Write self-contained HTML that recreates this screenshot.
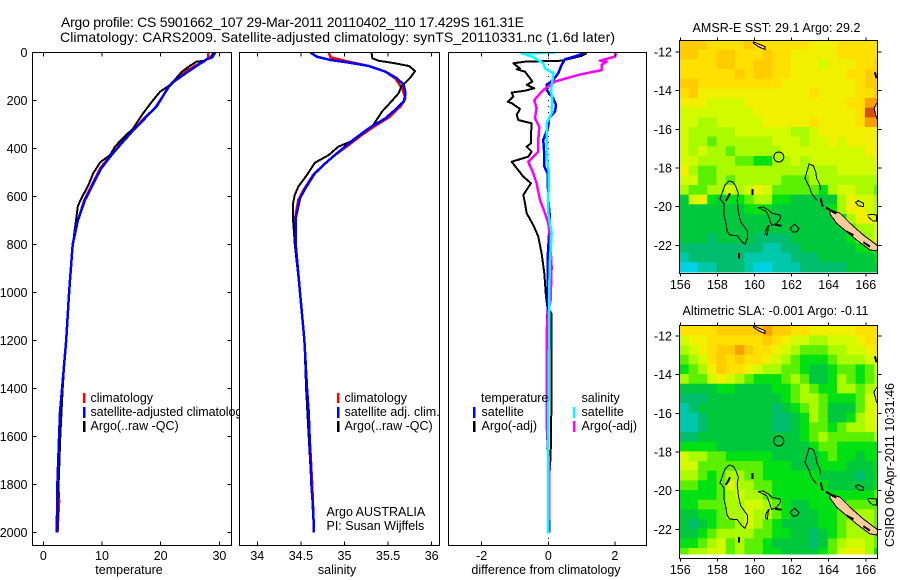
<!DOCTYPE html>
<html lang="en">
<head>
<meta charset="utf-8">
<title>Argo profile CS 5901662_107</title>
<style>
html,body{margin:0;padding:0;background:#fff;}
svg{display:block;font-family:"Liberation Sans",sans-serif;font-size:12.5px;fill:#000;}
.frame{fill:none;stroke:#000;stroke-width:1;shape-rendering:crispEdges;}
.leg{stroke-width:2.5;shape-rendering:crispEdges;}
</style>
</head>
<body>
<svg id="chart" xmlns="http://www.w3.org/2000/svg" width="900" height="580" viewBox="0 0 900 580">
  <rect x="0" y="0" width="900" height="580" fill="#fff"/>
  <defs>
    <clipPath id="clipMap1"><rect x="679.5" y="40.5" width="198" height="232"/></clipPath>
    <clipPath id="clipMap2"><rect x="679.5" y="325.5" width="198" height="229"/></clipPath>
    <clipPath id="clipP1"><rect x="32" y="52" width="200" height="494"/></clipPath>
    <clipPath id="clipP2"><rect x="239" y="52" width="201" height="494"/></clipPath>
    <clipPath id="clipP3"><rect x="448" y="52" width="199" height="494"/></clipPath>
  </defs>

  <text x="61" y="27" font-size="14" textLength="463" lengthAdjust="spacing">Argo profile: CS 5901662_107 29-Mar-2011 20110402_110 17.429S 161.31E</text>
  <text x="60" y="42" font-size="14" textLength="555" lengthAdjust="spacing">Climatology: CARS2009. Satellite-adjusted climatology: synTS_20110331.nc (1.6d later)</text>

  <g id="panel1"></g>
  <g>
    <line class="leg" x1="84" y1="393" x2="84" y2="403" stroke="#f00"/>
    <line class="leg" x1="84" y1="407" x2="84" y2="418" stroke="#00f"/>
    <line class="leg" x1="84" y1="421" x2="84" y2="432" stroke="#000"/>
    <text x="90.5" y="402">climatology</text>
    <text x="90.5" y="416" textLength="158">satellite-adjusted climatology</text>
    <text x="90.5" y="430">Argo(..raw -QC)</text>
  </g>
  <rect x="239" y="52" width="201" height="494" fill="#fff"/>
  <g id="panel2"></g>
  <g>
    <line class="leg" x1="338" y1="393" x2="338" y2="403" stroke="#f00"/>
    <line class="leg" x1="338" y1="407" x2="338" y2="418" stroke="#00f"/>
    <line class="leg" x1="338" y1="421" x2="338" y2="432" stroke="#000"/>
    <text x="344.5" y="402">climatology</text>
    <text x="344.5" y="416">satellite adj. clim.</text>
    <text x="344.5" y="430">Argo(..raw -QC)</text>
    <text x="326.5" y="516">Argo AUSTRALIA</text>
    <text x="326.5" y="530">PI: Susan Wijffels</text>
  </g>
  <g id="panel3"></g>
  <g>
    <text x="481" y="402">temperature</text>
    <line class="leg" x1="474" y1="407" x2="474" y2="418" stroke="#00f"/>
    <text x="481.5" y="416">satellite</text>
    <line class="leg" x1="474" y1="421" x2="474" y2="432" stroke="#000"/>
    <text x="481.5" y="430">Argo(-adj)</text>
    <text x="581.5" y="402">salinity</text>
    <line class="leg" x1="574" y1="407" x2="574" y2="418" stroke="#0ff"/>
    <text x="581.5" y="416">satellite</text>
    <line class="leg" x1="574" y1="421" x2="574" y2="432" stroke="#f0f"/>
    <text x="581.5" y="430">Argo(-adj)</text>
  </g>
  <text x="129" y="574" text-anchor="middle">temperature</text>
  <text x="337" y="574" text-anchor="middle">salinity</text>
  <text x="546" y="574" text-anchor="middle">difference from climatology</text>

  <g id="map1"></g>
  <g id="map2"></g>
  <text x="692.5" y="32" textLength="168" lengthAdjust="spacing">AMSR-E SST: 29.1 Argo: 29.2</text>
  <text x="682.5" y="315" textLength="186" lengthAdjust="spacing">Altimetric SLA: -0.001 Argo: -0.11</text>
  <text transform="translate(894,547) rotate(-90)" textLength="164" lengthAdjust="spacing">CSIRO 06-Apr-2011 10:31:46</text>
</svg>
<script>
// Profile axis values
const depthTicks = [0, 200, 400, 600, 800, 1000, 1200, 1400, 1600, 1800, 2000];
const tempTicks = [0, 10, 20, 30];
const salTicks = [34, 34.5, 35, 35.5, 36];
const salTickLabels = ['34', '34.5', '35', '35.5', '36'];
const diffTicks = [-2, 0, 2];
const lonTicks = [156, 158, 160, 162, 164, 166];
const latTicks = [-12, -14, -16, -18, -20, -22];

// Temperature profiles
const tempClimDepth = [0, 25, 39, 60, 94, 136, 178, 233, 268, 326, 386, 435, 483, 532, 587, 615, 700, 800, 1000, 1200, 1400, 1600, 1800, 1870, 2000];
const tempClimValue = [28.1, 28.1, 27.3, 25.6, 23.3, 21.6, 20.5, 19.0, 17.5, 15.2, 13.0, 11.3, 9.7, 8.7, 7.6, 7.0, 5.9, 5.0, 4.4, 3.9, 3.2, 2.75, 2.5, 2.7, 2.4];
const tempSatDepth = [0, 21, 29, 57, 90, 119, 146, 178, 226, 268, 326, 386, 435, 483, 532, 587, 615, 700, 800, 1000, 1200, 1400, 1500, 1600, 1800, 2000];
const tempSatValue = [29.3, 28.8, 27.8, 26.1, 24.1, 22.4, 21.3, 20.5, 19.3, 17.6, 15.3, 13.1, 11.4, 9.9, 8.8, 7.7, 7.1, 5.9, 5.0, 4.4, 3.9, 3.2, 2.85, 2.7, 2.4, 2.3];
const tempArgoDepth = [1, 21, 36, 39, 56, 81, 115, 136, 164, 206, 254, 317, 358, 393, 428, 458, 504, 553, 608, 640, 824, 1000, 1400, 1600, 1800, 2000];
const tempArgoValue = [29.0, 28.5, 27.3, 26.1, 25.0, 23.6, 22.4, 21.6, 19.9, 18.5, 17.0, 15.3, 13.6, 12.2, 11.4, 9.7, 8.5, 7.7, 6.5, 5.9, 4.9, 4.4, 3.3, 2.9, 2.6, 2.4];

// Salinity profiles
const salClimDepth = [1, 21, 39, 57, 81, 108, 150, 192, 226, 271, 307, 344, 386, 428, 469, 511, 574, 615, 699, 800, 1000, 1200, 1400, 1600, 1800, 2000];
const salClimValue = [34.82, 34.84, 35.05, 35.28, 35.47, 35.58, 35.66, 35.70, 35.64, 35.51, 35.35, 35.20, 35.05, 34.89, 34.76, 34.64, 34.53, 34.47, 34.43, 34.44, 34.49, 34.54, 34.57, 34.6, 34.63, 34.65];
const salSatDepth = [1, 18, 32, 43, 57, 81, 108, 136, 171, 205, 240, 275, 310, 344, 386, 428, 469, 504, 567, 608, 692, 800, 1000, 1200, 1400, 1500, 1600, 1700, 1800, 1900, 2000];
const salSatValue = [34.61, 34.68, 34.84, 35.05, 35.28, 35.47, 35.60, 35.68, 35.70, 35.68, 35.58, 35.47, 35.31, 35.18, 35.03, 34.89, 34.76, 34.66, 34.55, 34.49, 34.44, 34.44, 34.49, 34.54, 34.57, 34.59, 34.60, 34.61, 34.62, 34.64, 34.65];
const salArgoDepth = [1, 25, 35, 46, 57, 78, 108, 143, 171, 212, 247, 303, 326, 372, 393, 428, 460, 511, 560, 594, 629, 699, 800, 1000, 1200, 1400, 1600, 1800, 2000];
const salArgoValue = [35.31, 35.32, 35.39, 35.58, 35.74, 35.81, 35.75, 35.65, 35.62, 35.52, 35.43, 35.33, 35.24, 35.07, 34.93, 34.82, 34.66, 34.57, 34.47, 34.43, 34.41, 34.41, 34.43, 34.49, 34.54, 34.56, 34.59, 34.62, 34.65];

// Differences from climatology
const diffTempArgoDepth = [4, 15, 35, 39, 46, 67, 71, 81, 108, 122, 136, 150, 160, 168, 185, 206, 212, 236, 261, 282, 296, 344, 379, 393, 414, 435, 456, 483, 518, 546, 594, 629, 671, 720, 768, 837, 921, 1018, 1060, 1087, 1164, 1365, 1629, 1733, 1760];
const diffTempArgoValue = [1.15, 1.0, 0.4, -0.7, -1.05, -0.85, -0.95, -0.7, -0.55, -0.48, -0.65, -0.42, -0.7, -1.1, -1.05, -1.22, -1.1, -0.85, -0.95, -0.9, -0.5, -0.52, -0.52, -0.65, -0.5, -0.6, -1.1, -0.95, -0.75, -0.52, -0.75, -0.7, -0.65, -0.45, -0.3, -0.2, -0.12, -0.07, -0.03, 0.09, 0.09, 0.1, 0.08, 0.05, 0.03];
const diffTempSatDepth = [4, 15, 29, 53, 87, 115, 136, 157, 192, 219, 247, 275, 310, 365, 407, 462, 476, 504, 615, 692, 860, 1060, 1400, 1540, 1740, 2000];
const diffTempSatValue = [1.05, 0.85, 0.5, 0.4, 0.3, 0.15, -0.05, -0.05, 0.15, 0.23, 0.2, 0.02, 0.0, -0.15, -0.13, -0.12, -0.12, -0.02, 0.0, 0.05, -0.02, -0.02, -0.05, -0.05, 0.02, 0.02];
const diffSalArgoDepth = [4, 18, 35, 39, 53, 74, 94, 122, 157, 199, 233, 275, 310, 365, 414, 456, 504, 546, 615, 671, 712, 768, 894, 1032, 1101, 1171, 1546, 1740, 1949];
const diffSalArgoValue = [2.05, 2.0, 1.55, 1.75, 1.6, 1.6, 0.9, 0.2, -0.15, -0.42, -0.35, -0.4, -0.27, -0.3, -0.3, -0.6, -0.45, -0.35, -0.25, -0.1, 0.0, 0.05, 0.1, 0.07, -0.02, -0.05, -0.05, 0.03, 0.03];
const diffSalSatDepth = [2, 4, 18, 46, 67, 87, 122, 157, 199, 254, 296, 365, 462, 504, 615, 671, 712, 754, 865, 1032, 1240, 1546, 2004];
const diffSalSatValue = [0.2, -0.8, -0.48, -0.15, -0.1, 0.15, 0.12, 0.08, 0.12, 0.1, -0.05, -0.05, -0.02, 0.02, 0.0, 0.0, 0.05, 0.1, 0.05, 0.02, 0.02, 0.0, 0.0];

// Map colour levels (0 = coolest, 12 = warmest), rows north to south, 0.5 degree cells
const sstLevels = [
[10,10,10,9,9,9,9,10,9,9,9,9,9,9,8,8,8,9,9,9,9,9],
[10,10,9,9,10,10,9,9,9,10,9,9,8,8,8,8,8,9,9,9,9,9],
[9,9,9,9,10,10,9,9,10,10,9,9,8,8,8,7,8,8,8,9,9,10],
[9,9,9,9,9,9,10,9,10,10,9,9,8,8,8,8,8,8,9,9,10,10],
[10,10,9,9,9,9,9,9,9,9,9,8,8,8,8,8,8,8,8,9,10,10],
[9,10,8,8,8,8,8,8,8,8,8,8,8,8,9,8,8,8,8,9,9,10],
[8,8,8,7,7,7,7,8,8,8,8,8,8,8,8,8,8,8,9,9,11,11],
[7,7,7,7,7,7,7,7,8,8,8,8,8,8,8,8,8,8,8,9,12,12],
[7,7,6,6,7,7,7,7,7,8,8,8,8,8,9,8,8,8,8,9,11,11],
[7,6,6,6,6,6,7,7,7,7,7,7,6,6,7,8,8,8,8,8,8,8],
[7,6,6,5,6,6,6,6,6,6,7,7,7,6,7,7,8,7,8,8,8,8],
[7,6,7,6,6,5,6,6,6,6,6,7,7,7,7,7,7,7,7,7,8,8],
[7,7,6,6,6,6,5,5,4,4,6,6,7,6,7,7,7,7,7,7,7,8],
[8,6,5,5,6,6,6,6,6,6,6,6,6,6,6,6,6,7,7,7,7,7],
[7,7,5,5,6,5,6,6,6,6,6,5,5,5,6,6,6,6,6,6,6,6],
[6,5,5,6,6,7,6,7,8,7,5,5,5,5,5,4,6,7,7,6,6,5],
[3,7,8,4,3,4,4,5,6,6,4,4,3,3,3,3,3,6,8,7,7,6],
[3,3,3,3,3,3,3,4,4,4,3,3,3,3,3,3,4,6,8,8,7,6],
[3,3,3,3,3,3,3,3,3,3,3,3,3,3,3,3,3,4,6,8,8,7],
[3,3,3,3,3,3,3,3,3,3,3,3,3,3,3,3,3,3,5,6,6,7],
[3,3,3,2,3,3,3,3,2,2,2,2,3,3,3,3,3,3,4,5,6,7],
[2,2,2,2,2,2,2,2,2,1,1,2,2,3,3,3,3,3,3,4,4,5],
[1,2,2,2,2,2,2,1,1,1,1,1,2,2,2,3,3,3,3,3,3,4],
[0,0,1,1,2,2,2,1,0,0,1,1,1,2,2,2,2,2,3,3,3,3]
];
const slaLevels = [
[9,9,9,9,10,10,10,10,10,11,10,10,9,9,8,8,8,8,8,9,9,9],
[7,8,8,9,9,9,9,9,9,10,9,8,7,7,6,6,7,7,7,8,9,9],
[6,7,8,9,10,10,11,10,9,9,8,7,6,5,5,5,6,6,7,7,8,9],
[5,6,7,9,10,9,10,9,9,8,7,6,5,4,4,4,5,6,6,6,7,8],
[4,5,6,8,10,9,9,8,7,6,6,5,5,4,3,3,4,5,5,4,5,7],
[6,5,5,7,8,7,6,5,4,4,4,5,6,5,3,3,4,6,5,4,5,6],
[3,3,3,3,4,4,3,3,3,3,4,4,5,6,5,4,4,6,6,5,6,7],
[2,2,2,3,3,3,3,3,3,3,3,4,5,6,6,5,4,4,4,5,7,8],
[1,2,3,3,3,3,3,3,3,3,2,3,4,5,6,5,3,3,3,5,7,8],
[1,1,2,3,3,3,3,3,3,3,2,2,3,4,6,5,3,3,4,6,7,8],
[1,1,2,3,3,3,3,3,3,3,2,2,3,4,5,5,4,5,6,6,7,7],
[2,2,3,3,3,3,3,3,3,3,3,3,3,4,5,6,5,5,5,5,5,6],
[4,4,4,4,3,3,3,3,3,3,3,3,3,3,4,5,5,4,4,4,4,4],
[7,6,6,5,5,4,4,4,4,4,3,3,3,3,3,4,5,4,4,3,4,4],
[7,7,5,5,5,5,5,5,5,4,4,4,3,3,3,4,4,4,3,3,3,4],
[6,6,5,4,5,6,6,5,5,4,4,4,4,4,4,3,3,3,3,2,3,4],
[5,5,4,4,5,7,6,6,5,5,4,4,4,4,4,4,3,3,3,3,3,4],
[4,4,4,4,5,6,7,6,6,5,4,4,4,4,4,4,4,4,4,4,4,5],
[4,4,5,5,5,6,6,7,7,6,5,4,3,3,4,4,4,4,5,5,5,5],
[3,3,4,4,5,6,6,7,6,6,5,4,3,3,3,4,4,5,5,6,6,5],
[3,2,3,4,5,5,6,7,6,5,4,3,3,3,3,4,4,5,6,6,6,5],
[3,3,4,5,6,6,6,6,5,5,4,4,3,3,2,3,4,5,6,6,6,5],
[4,4,5,6,7,5,6,5,5,4,3,3,3,3,2,3,5,6,7,7,6,5],
[5,6,6,7,7,5,6,5,5,4,4,3,3,3,3,4,5,7,8,8,6,4]
];
const levelColors = ['#00d2e6','#00c8aa','#00be6e','#00c83c','#00e114','#5af000','#aafa00','#d2fa00','#f0f000','#ffe000','#ffcc00','#faa000','#d7500a'];

// Coastlines, lon / lat
const islandALon = [158.64,158.86,159.0,159.13,159.07,159.13,159.25,159.61,159.61,159.49,159.31,159.07,158.68,158.53,158.46,158.35,158.35,158.14,158.28,158.41,158.64];
const islandALat = [-18.67,-18.74,-18.97,-19.31,-19.66,-20.26,-20.78,-21.26,-21.64,-21.95,-21.81,-21.5,-21.47,-21.29,-20.86,-20.43,-19.83,-19.6,-19.22,-18.88,-18.67];
const islandBLon = [163.35,163.08,162.95,162.72,162.85,162.95,163.17,163.3,163.35,163.53,163.57];
const islandBLat = [-19.66,-19.31,-18.97,-18.53,-18.1,-17.79,-17.88,-18.19,-18.53,-18.88,-19.14];
const islandCLon = [160.2,160.47,160.74,160.92,161.37,161.41,161.19,160.92,160.8,160.65,160.2];
const islandCLat = [-20.05,-20.02,-20.17,-20.34,-20.43,-20.6,-20.86,-20.98,-20.6,-20.26,-20.05];
const islandC2Lon = [160.8,160.65,160.58,160.69,160.74,160.8];
const islandC2Lat = [-20.95,-21.12,-21.38,-21.47,-21.12,-20.95];
const islandDLon = [161.91,162.18,162.4,162.31,162.09,161.91];
const islandDLat = [-21.12,-20.91,-21.12,-21.29,-21.33,-21.12];
const islandELon = [165.45,165.6,165.87,165.87,165.6,165.45];
const islandELat = [-19.78,-19.69,-19.83,-20.0,-19.95,-19.78];
const islandFLon = [166.08,166.31,166.58,166.58,166.37,166.13];
const islandFLat = [-20.43,-20.4,-20.43,-20.74,-20.74,-20.52];
const caledoniaLon = [164.07,164.61,165.15,165.87,166.58,166.7,166.58,166.22,165.5,164.97,164.43,164.07];
const caledoniaLat = [-20.17,-20.34,-20.86,-21.47,-21.98,-22.1,-22.29,-22.24,-21.72,-21.29,-20.86,-20.38];
const northIslandLon = [159.94,160.56,160.56,160.29,159.94];
const northIslandLat = [-11.47,-11.72,-11.86,-11.76,-11.55];
const eastIslandLon = [166.7,166.58,166.44,166.58,166.7];
const eastIslandLat = [-14.6,-14.66,-14.91,-15.43,-15.5];
const reefStartLon = [159.9,159.16,158.68,163.57,163.85,165.87,164.97,161.1,166.49];
const reefStartLat = [-19.09,-22.41,-19.31,-19.57,-20.05,-21.84,-21.29,-20.95,-13.05];
const reefEndLon = [159.9,159.16,158.46,163.67,164.4,166.22,165.33,161.46,166.58];
const reefEndLat = [-19.4,-22.67,-19.71,-20.0,-20.36,-22.07,-21.47,-20.98,-13.36];
const argoLon = [161.31];
const argoLat = [-17.43];

const SVGNS = 'http://www.w3.org/2000/svg';
function mk(parent, tag) {
  const el = document.createElementNS(SVGNS, tag);
  parent.appendChild(el);
  return el;
}
function setA(el, name, val) { el.setAttribute(name, val); }

// Axis functions
const depthY = d => 52.3 + 0.24 * d;
const tempX = t => 43.3 + 5.87 * t;
const salX = s => 257.3 + 87.2 * (s - 34);
const diffX = v => 548.3 + 33.3 * v;
const lonX = lon => 680.3 + 18.55 * (lon - 156);
const lat1Y = lat => 52 + 19.33 * (-12 - lat);
const lat2Y = lat => 336 + 19.33 * (-12 - lat);

function pathFrom(xs, ys, fx, fy) {
  return xs.map((v, i) => (i ? 'L' : 'M') + fx(v).toFixed(1) + ' ' + fy(ys[i]).toFixed(1)).join('');
}
function drawCurve(parent, name, values, depths, fx, color, width) {
  const el = mk(parent, 'path');
  
  
  setA(el, 'd', pathFrom(values, depths, fx, depthY));
  setA(el, 'fill', 'none');
  setA(el, 'stroke', color);
  setA(el, 'stroke-width', width);
  setA(el, 'stroke-linejoin', 'round');
  setA(el, 'shape-rendering', 'crispEdges');
}
function tick(parent, x1, y1, x2, y2) {
  const el = mk(parent, 'line');
  
  
  setA(el, 'x1', x1); setA(el, 'y1', y1); setA(el, 'x2', x2); setA(el, 'y2', y2);
  setA(el, 'stroke', '#000');
  setA(el, 'shape-rendering', 'crispEdges');
}
function label(parent, x, y, txt, anchor) {
  const el = mk(parent, 'text');
  
  
  setA(el, 'x', x); setA(el, 'y', y);
  setA(el, 'text-anchor', anchor);
  el.textContent = txt;
}
function frame(parent, x, y, w, h) {
  const el = mk(parent, 'rect');
  
  
  setA(el, 'class', 'frame');
  setA(el, 'x', x); setA(el, 'y', y); setA(el, 'width', w); setA(el, 'height', h);
}
function clipGroup(parent, id) {
  const el = mk(parent, 'g');
  
  
  setA(el, 'clip-path', 'url(#' + id + ')');
  return el;
}

// Panel 1: temperature
const p1 = document.getElementById('panel1');
const g1 = clipGroup(p1, 'clipP1');
drawCurve(g1, 'temperature-climatology-line', tempClimValue, tempClimDepth, tempX, '#f00', 2.5);
drawCurve(g1, 'temperature-argo-line', tempArgoValue, tempArgoDepth, tempX, '#000', 2);
drawCurve(g1, 'temperature-satellite-adjusted-line', tempSatValue, tempSatDepth, tempX, '#00f', 2.5);
frame(p1, 32.5, 52.5, 199, 493);
depthTicks.forEach(d => {
  tick(p1, 32.5, depthY(d), 36.5, depthY(d));
  tick(p1, 231.5, depthY(d), 227.5, depthY(d));
  label(p1, 27.5, depthY(d) + 4.5, String(d), 'end');
});
tempTicks.forEach(t => {
  tick(p1, tempX(t), 52.5, tempX(t), 56.5);
  tick(p1, tempX(t), 545.5, tempX(t), 541.5);
  label(p1, tempX(t), 560, String(t), 'middle');
});

// Panel 2: salinity
const p2 = document.getElementById('panel2');
const g2 = clipGroup(p2, 'clipP2');
drawCurve(g2, 'salinity-climatology-line', salClimValue, salClimDepth, salX, '#f00', 2.5);
drawCurve(g2, 'salinity-argo-line', salArgoValue, salArgoDepth, salX, '#000', 2);
drawCurve(g2, 'salinity-satellite-adjusted-line', salSatValue, salSatDepth, salX, '#00f', 2.5);
frame(p2, 239.5, 52.5, 200, 493);
salTicks.forEach((s, i) => {
  tick(p2, salX(s), 52.5, salX(s), 56.5);
  tick(p2, salX(s), 545.5, salX(s), 541.5);
  label(p2, salX(s), 560, salTickLabels[i], 'middle');
});

// Panel 3: differences
const p3 = document.getElementById('panel3');
const g3 = clipGroup(p3, 'clipP3');
const zeroLine = mk(g3, 'line');


setA(zeroLine, 'x1', diffX(0)); setA(zeroLine, 'x2', diffX(0));
setA(zeroLine, 'y1', 52); setA(zeroLine, 'y2', 546);
setA(zeroLine, 'stroke', '#000');
setA(zeroLine, 'stroke-dasharray', '1 5');
setA(zeroLine, 'shape-rendering', 'crispEdges');
drawCurve(g3, 'temperature-argo-minus-adjusted-line', diffTempArgoValue, diffTempArgoDepth, diffX, '#000', 2);
drawCurve(g3, 'temperature-satellite-difference-line', diffTempSatValue, diffTempSatDepth, diffX, '#00f', 2.5);
drawCurve(g3, 'salinity-argo-minus-adjusted-line', diffSalArgoValue, diffSalArgoDepth, diffX, '#f0f', 2.5);
drawCurve(g3, 'salinity-satellite-difference-line', diffSalSatValue, diffSalSatDepth, diffX, '#0ff', 2.5);
frame(p3, 448.5, 52.5, 198, 493);
diffTicks.forEach(v => {
  tick(p3, diffX(v), 52.5, diffX(v), 56.5);
  tick(p3, diffX(v), 545.5, diffX(v), 541.5);
  label(p3, diffX(v), 560, String(v), 'middle');
});

// Maps
function drawMap(groupId, clipId, levels, latY, top, bottom, topLat, frameBottom, lonLabelY) {
  const root = document.getElementById(groupId);
  const g = clipGroup(root, clipId);
  levels.forEach((row, r) => {
    row.forEach((lvl, c) => {
      const cell = mk(g, 'rect');
      
      
      const lonW = 155.95 + c * 0.5;
      const latN = topLat - r * 0.5;
      setA(cell, 'x', lonX(lonW).toFixed(2));
      setA(cell, 'y', latY(latN).toFixed(2));
      setA(cell, 'width', (lonX(lonW + 0.5) - lonX(lonW) + 0.6).toFixed(2));
      setA(cell, 'height', (latY(latN - 0.5) - latY(latN) + 0.6).toFixed(2));
      setA(cell, 'fill', levelColors[lvl]);
    });
  });
  const fills = [[caledoniaLon, caledoniaLat, 'new-caledonia'], [northIslandLon, northIslandLat, 'north-island'], [eastIslandLon, eastIslandLat, 'east-island']];
  fills.forEach(f => {
    const el = mk(g, 'path');
    
    
    setA(el, 'd', pathFrom(f[0], f[1], lonX, latY) + 'Z');
    setA(el, 'fill', '#ffcc99');
    setA(el, 'stroke', '#000');
    setA(el, 'stroke-width', 1);
    setA(el, 'shape-rendering', 'crispEdges');
  });
  const outlines = [[islandALon, islandALat], [islandBLon, islandBLat], [islandCLon, islandCLat], [islandC2Lon, islandC2Lat], [islandDLon, islandDLat], [islandELon, islandELat], [islandFLon, islandFLat]];
  outlines.forEach(o => {
    const el = mk(g, 'path');
    
    
    setA(el, 'd', pathFrom(o[0], o[1], lonX, latY));
    setA(el, 'fill', 'none');
    setA(el, 'stroke', '#000');
    setA(el, 'stroke-width', 1);
    setA(el, 'shape-rendering', 'crispEdges');
  });
  reefStartLon.forEach((lon, i) => {
    const el = mk(g, 'line');
    
    
    setA(el, 'x1', lonX(lon)); setA(el, 'y1', latY(reefStartLat[i]));
    setA(el, 'x2', lonX(reefEndLon[i])); setA(el, 'y2', latY(reefEndLat[i]));
    setA(el, 'stroke', '#000');
    setA(el, 'stroke-width', 2);
    setA(el, 'shape-rendering', 'crispEdges');
  });
  const circle = mk(g, 'circle');
  
  
  setA(circle, 'cx', lonX(argoLon[0])); setA(circle, 'cy', latY(argoLat[0]));
  setA(circle, 'r', 5);
  setA(circle, 'fill', 'none');
  setA(circle, 'stroke', '#000');
  setA(circle, 'stroke-width', 1);
  frame(root, 679.5, top, 198, frameBottom - top);
  latTicks.forEach(lat => {
    tick(root, 679.5, latY(lat), 675.5, latY(lat));
    tick(root, 877.5, latY(lat), 881.5, latY(lat));
    label(root, 672, latY(lat) + 4.5, String(lat), 'end');
  });
  lonTicks.forEach(lon => {
    tick(root, lonX(lon), top, lonX(lon), top - 3);
    tick(root, lonX(lon), frameBottom, lonX(lon), frameBottom + 3);
    label(root, lonX(lon), lonLabelY, String(lon), 'middle');
  });
}
drawMap('map1', 'clipMap1', sstLevels, lat1Y, 40.5, 272, -11.38, 273.5, 289);
drawMap('map2', 'clipMap2', slaLevels, lat2Y, 325.5, 555, -11.47, 558.5, 574);
</script>
</body>
</html>
